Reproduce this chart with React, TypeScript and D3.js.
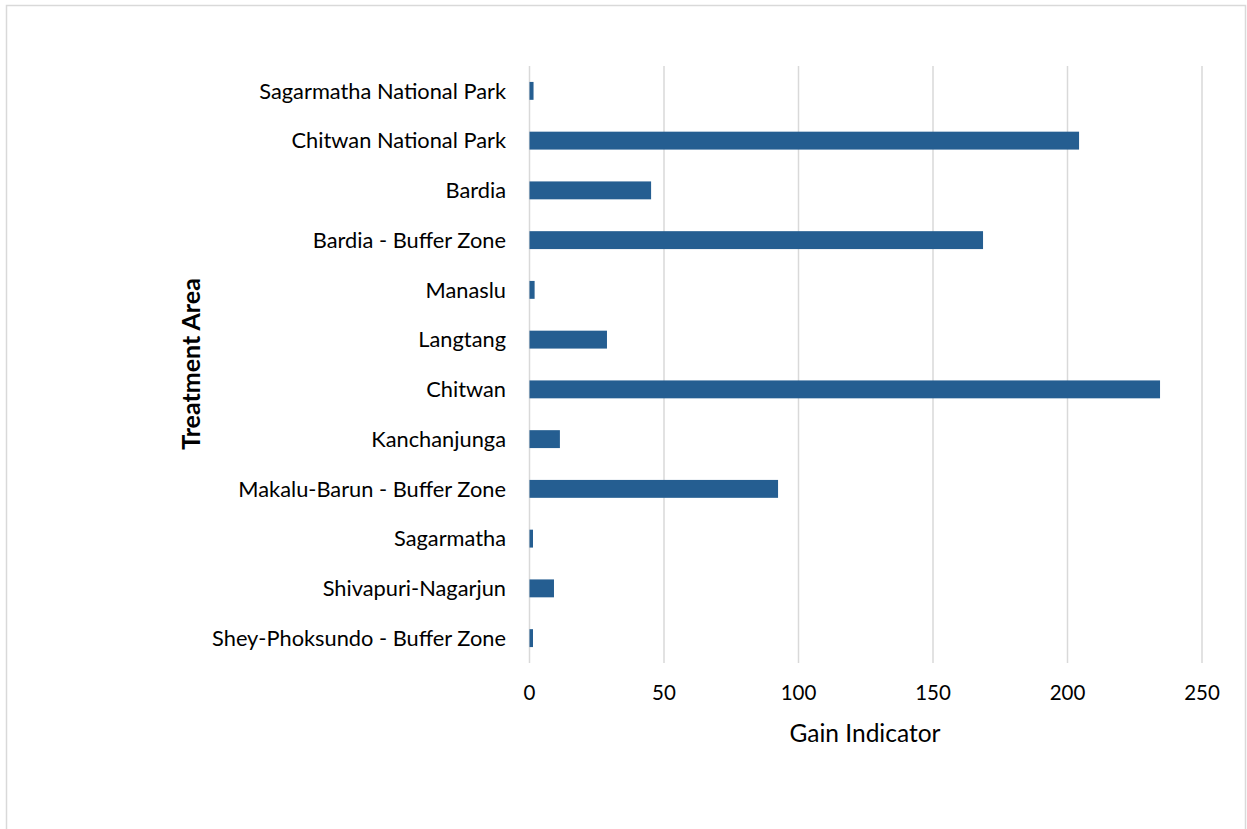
import React from "react";
import * as d3 from "d3";

const categories = [
  "Sagarmatha National Park",
  "Chitwan National Park",
  "Bardia",
  "Bardia - Buffer Zone",
  "Manaslu",
  "Langtang",
  "Chitwan",
  "Kanchanjunga",
  "Makalu-Barun - Buffer Zone",
  "Sagarmatha",
  "Shivapuri-Nagarjun",
  "Shey-Phoksundo - Buffer Zone",
];
const values = [1.5, 204.3, 45.2, 168.6, 1.9, 28.8, 234.4, 11.3, 92.4, 1.3, 9.1, 1.3];
const xTicks = [0, 50, 100, 150, 200, 250];

const W = 1247;
const H = 829;
const left = 529.5;
const right = 1202;
const top = 66;
const bottom = 663;
const FONT = "Lato, 'Open Sans', sans-serif";

export default function App() {
  const x = d3.scaleLinear().domain([0, 250]).range([left, right]);
  const y = d3.scaleBand<string>().domain(categories).range([top, bottom]).paddingInner(0.64).paddingOuter(0.32);
  return (
    <svg width={W} height={H} style={{ position: "absolute", left: 0, top: 0, background: "#fff" }}>
      <rect x={6.5} y={5.5} width={1239} height={840} fill="#fff" stroke="#d9d9d9" strokeWidth={1.5} />
      {xTicks.map((t) => (
        <line key={t} x1={x(t)} x2={x(t)} y1={top} y2={bottom} stroke="#d9d9d9" strokeWidth={1.5} />
      ))}
      {categories.map((c, i) => (
        <g key={c}>
          <rect x={x(0)} y={y(c)!} width={x(values[i]) - x(0)} height={y.bandwidth()} fill="#255E91" />
          <text x={506} y={y(c)! + y.bandwidth() / 2} dy="0.35em" textAnchor="end" fontFamily={FONT} fontSize={21.8} fill="#000">
            {c}
          </text>
        </g>
      ))}
      {xTicks.map((t) => (
        <text key={"l" + t} x={x(t)} y={693} dy="0.35em" textAnchor="middle" fontFamily={FONT} fontSize={20.5} fill="#000">
          {t}
        </text>
      ))}
      <text x={865} y={733} dy="0.35em" textAnchor="middle" fontFamily={FONT} fontSize={24.5} fill="#000">
        Gain Indicator
      </text>
      <text
        transform={`translate(191,364) rotate(-90)`}
        dy="0.35em"
        textAnchor="middle"
        fontFamily={FONT}
        fontSize={25}
        fontWeight="bold"
        fill="#000"
      >
        Treatment Area
      </text>
    </svg>
  );
}
